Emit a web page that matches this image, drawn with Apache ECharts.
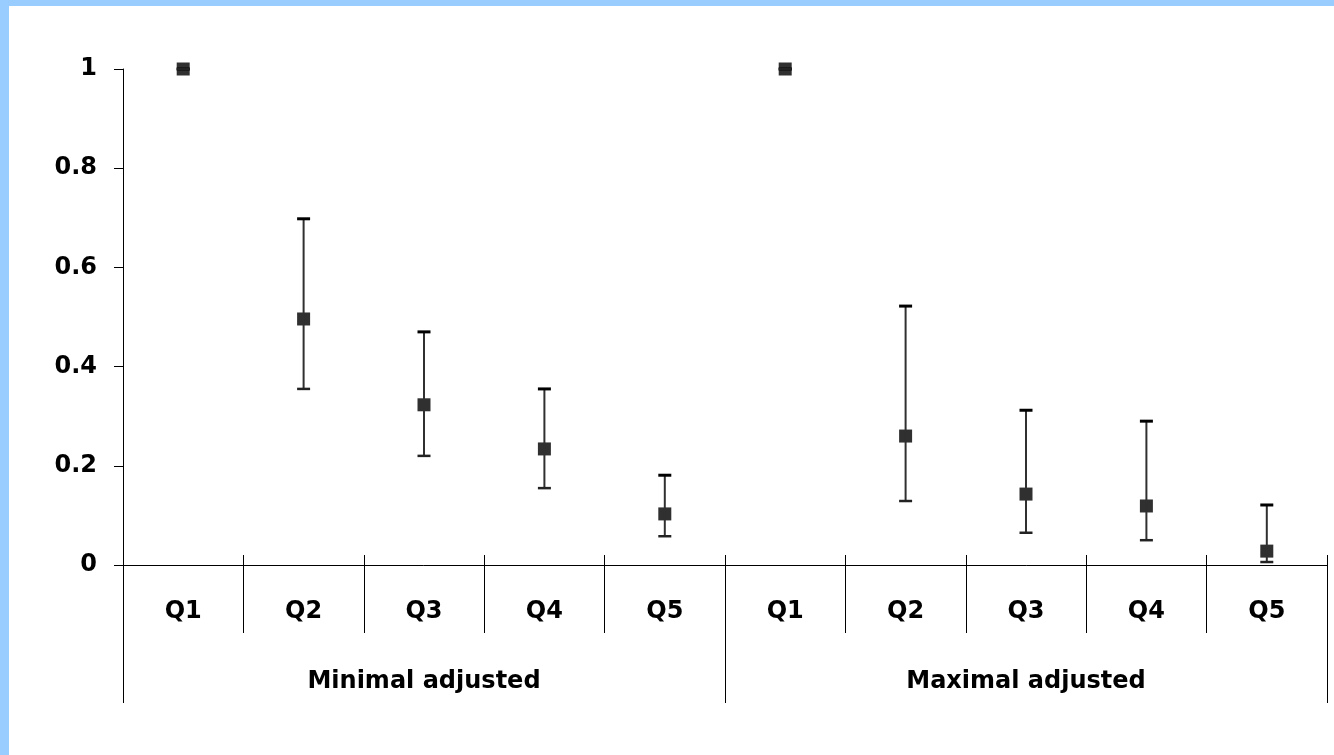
<!DOCTYPE html>
<html>
<head>
<meta charset="utf-8">
<script src="https://cdn.jsdelivr.net/npm/echarts@6/dist/echarts.min.js"></script>
<style>
  html, body { margin: 0; padding: 0; width: 1334px; height: 755px; background: #99CCFF; overflow: hidden; }
  #chart { position: absolute; left: 9px; top: 6px; width: 1325px; height: 749px; background: #ffffff; }
</style>
</head>
<body>
<div id="chart"></div>
<script>
// Data
const quintiles = ['Q1', 'Q2', 'Q3', 'Q4', 'Q5'];
const groups = ['Minimal adjusted', 'Maximal adjusted'];
const minEst  = [1, 0.496, 0.323, 0.234, 0.103];
const minLow  = [1, 0.355, 0.220, 0.155, 0.058];
const minHigh = [1, 0.698, 0.470, 0.355, 0.181];
const maxEst  = [1, 0.260, 0.143, 0.119, 0.028];
const maxLow  = [1, 0.129, 0.065, 0.050, 0.006];
const maxHigh = [1, 0.522, 0.312, 0.290, 0.121];
const yTicks = [0, 0.2, 0.4, 0.6, 0.8, 1];

const categories = quintiles.concat(quintiles);
const est = minEst.concat(maxEst);
const low = minLow.concat(maxLow);
const high = minHigh.concat(maxHigh);

const pointData = est.map((v, i) => [i, v]);
const errData = est.map((v, i) => [i, low[i], high[i]]);

const FONT = '"DejaVu Sans", "Liberation Sans", Arial, sans-serif';
const lineStyle = { color: '#000', width: 1 };

const chart = echarts.init(document.getElementById('chart'), null, { renderer: 'canvas' });
chart.setOption({
  animation: false,
  backgroundColor: '#ffffff',
  grid: { left: 114, right: 7, top: 63, bottom: 190, containLabel: false },
  xAxis: [
    {
      type: 'category', data: categories, position: 'bottom', boundaryGap: true,
      axisLine: { show: true, onZero: false, lineStyle },
      axisTick: { show: true, inside: true, length: 10, lineStyle },
      axisLabel: { show: false }, splitLine: { show: false }
    },
    {
      type: 'category', data: categories, position: 'bottom', boundaryGap: true,
      axisLine: { show: false, onZero: false },
      axisTick: { show: true, inside: false, length: 68, lineStyle },
      axisLabel: { show: true, margin: 35, color: '#000', fontFamily: FONT, fontWeight: 'bold', fontSize: 24 },
      splitLine: { show: false }
    },
    {
      type: 'category', data: groups, position: 'bottom', boundaryGap: true,
      axisLine: { show: false, onZero: false },
      axisTick: { show: true, inside: false, length: 138, lineStyle },
      axisLabel: { show: true, margin: 105, color: '#000', fontFamily: FONT, fontWeight: 'bold', fontSize: 24 },
      splitLine: { show: false }
    }
  ],
  yAxis: {
    type: 'value', min: 0, max: 1, interval: 0.2,
    axisLine: { show: true, onZero: false, lineStyle },
    axisTick: { show: true, inside: false, length: 9, lineStyle },
    axisLabel: {
      margin: 26, color: '#000', fontFamily: FONT, fontWeight: 'bold', fontSize: 24,
      formatter: v => { const t = yTicks.find(x => Math.abs(x - v) < 1e-9); return t === undefined ? '' : String(t); }
    },
    splitLine: { show: false }
  },
  series: [
    {
      type: 'scatter', xAxisIndex: 0, yAxisIndex: 0,
      symbol: 'rect', symbolSize: 13,
      itemStyle: { color: '#303030', opacity: 1 },
      data: pointData, z: 2
    },
    {
      type: 'custom', xAxisIndex: 0, yAxisIndex: 0, z: 3,
      data: errData,
      renderItem: function (params, api) {
        const x = api.value(0);
        const pLo = api.coord([x, api.value(1)]);
        const pHi = api.coord([x, api.value(2)]);
        const half = 6.5;
        return {
          type: 'group',
          children: [
            { type: 'line', shape: { x1: pLo[0], y1: pLo[1], x2: pHi[0], y2: pHi[1] },
              style: { stroke: '#303030', lineWidth: 2 } },
            { type: 'line', shape: { x1: pHi[0] - half, y1: pHi[1], x2: pHi[0] + half, y2: pHi[1] },
              style: { stroke: '#000000', lineWidth: 3 } },
            { type: 'line', shape: { x1: pLo[0] - half, y1: pLo[1], x2: pLo[0] + half, y2: pLo[1] },
              style: { stroke: '#222222', lineWidth: 2.5 } }
          ]
        };
      }
    }
  ]
});
</script>
</body>
</html>
